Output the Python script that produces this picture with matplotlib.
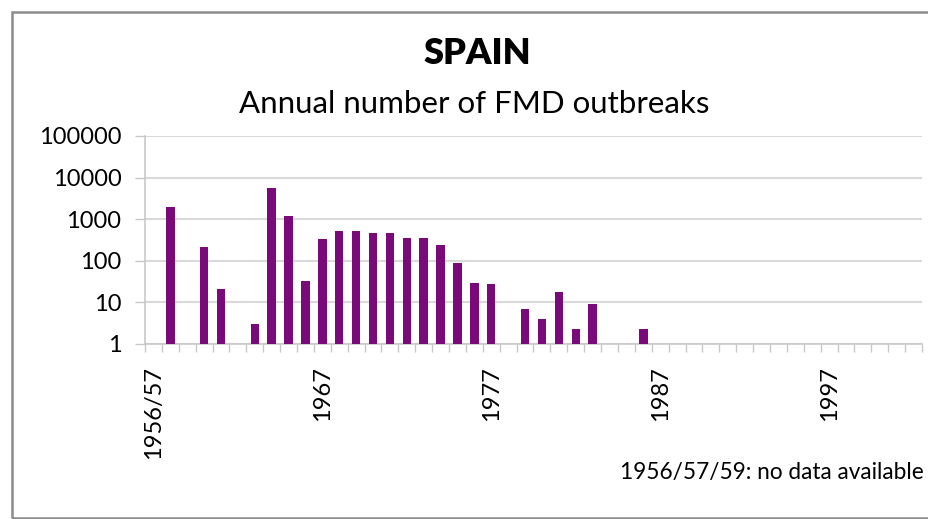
import numpy as np
import matplotlib
matplotlib.use("Agg")
import matplotlib.pyplot as plt
from matplotlib.patches import Rectangle
from matplotlib.ticker import FixedLocator, NullFormatter

plt.rcParams['font.family'] = ['Lato', 'DejaVu Sans']

# categories on the x axis: 1957 .. 2002 (first one labelled "1956/57")
first_year = 1957
n_years = 46

# years with reported outbreaks and their counts
years = [1958, 1960, 1961, 1963, 1964, 1965, 1966, 1967, 1968, 1969, 1970,
         1971, 1972, 1973, 1974, 1975, 1976, 1977, 1979, 1980, 1981, 1982,
         1983, 1986]
outbreaks = [2000, 218, 21, 3, 5500, 1210, 32, 330, 520, 520, 460,
             460, 350, 350, 240, 87, 30, 28, 7, 4, 18, 2.3,
             9, 2.3]

label_years = [1957, 1967, 1977, 1987, 1997]
label_text = ['1956/57', '1967', '1977', '1987', '1997']

y_ticks = [1, 10, 100, 1000, 10000, 100000]
y_labels = ['1', '10', '100', '1000', '10000', '100000']

W, H = 929, 519
fig = plt.figure(figsize=(W / 100, H / 100), dpi=100)
fig.patch.set_facecolor('white')

# chart border (right side runs off the picture)
fig.patches.append(Rectangle((12 / W, 1 / H), 1.2, (H - 13) / H,
                             transform=fig.transFigure, fill=False,
                             edgecolor='#8c8c8c', linewidth=1.8))

ax = fig.add_axes([145 / W, (H - 344) / H, (922 - 145) / W, (344 - 136) / H])

x = np.array(years) - first_year
ax.bar(x, outbreaks, width=0.5, color='#7a0a7a', log=True, zorder=3)

ax.set_yscale('log')
ax.set_ylim(1, 100000)
ax.set_xlim(-0.5, n_years - 0.5)

ax.set_yticks(y_ticks)
ax.set_yticklabels(y_labels)
ax.yaxis.set_minor_locator(FixedLocator([]))
ax.yaxis.set_minor_formatter(NullFormatter())
ax.tick_params(axis='y', which='major', length=7, width=1, color='#c8c8c8',
               pad=10, labelsize=17)

ax.set_xticks(np.array(label_years) - first_year)
ax.set_xticklabels(label_text, rotation=90, fontsize=17)
ax.set_xticks(np.arange(n_years + 1) - 0.5, minor=True)
ax.tick_params(axis='x', which='major', length=0, pad=16)
ax.tick_params(axis='x', which='minor', length=6, width=1, color='#c8c8c8')

ax.grid(axis='y', color='#d9d9d9', linewidth=1.5, zorder=0)
for s in ['top', 'right']:
    ax.spines[s].set_visible(False)
for s in ['left', 'bottom']:
    ax.spines[s].set_color('#c8c8c8')
    ax.spines[s].set_linewidth(1.2)

fig.text(477 / W, 1 - 53 / H, 'SPAIN', ha='center', va='center',
         fontsize=26, fontweight='heavy')
fig.text(474 / W, 1 - 104 / H, 'Annual number of FMD outbreaks',
         ha='center', va='center', fontsize=22.5)
fig.text(620 / W, 1 - 473 / H, '1956/57/59: no data available',
         ha='left', va='center', fontsize=16.3)

fig.savefig('out.png', dpi=100)
